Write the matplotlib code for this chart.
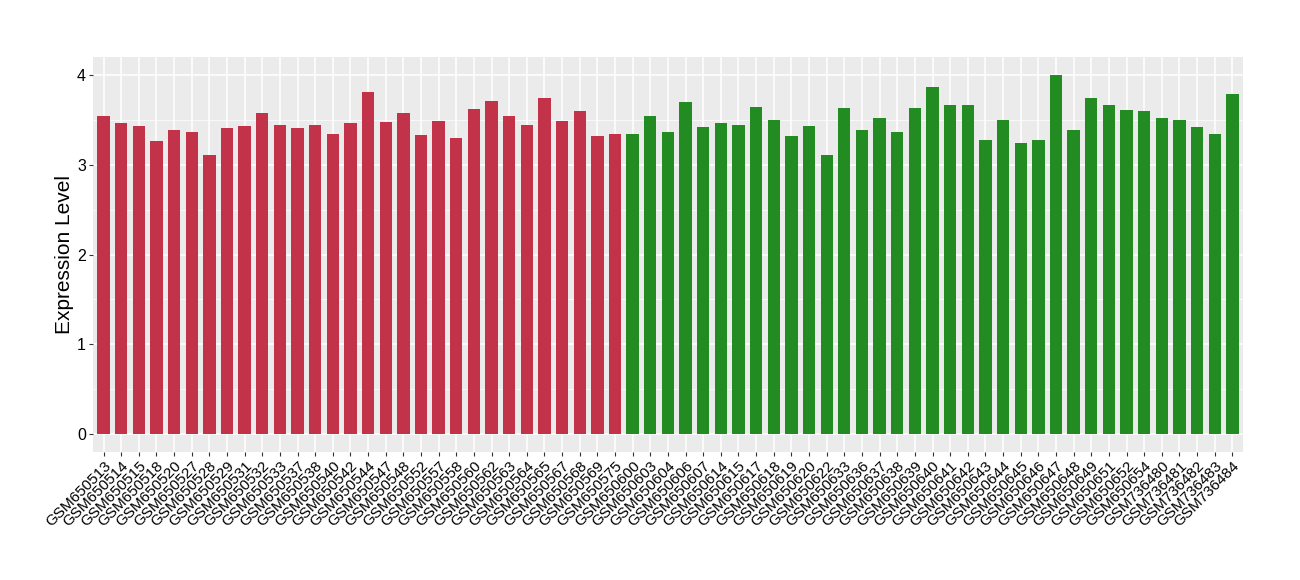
import matplotlib
matplotlib.use("Agg")
import matplotlib.pyplot as plt
import numpy as np

plt.rcParams['font.family'] = ['Liberation Sans', 'DejaVu Sans']

# Samples in group 1 (red) and group 2 (green)
red_samples = ['GSM650513', 'GSM650514', 'GSM650515', 'GSM650518', 'GSM650520',
               'GSM650527', 'GSM650528', 'GSM650529', 'GSM650531', 'GSM650532',
               'GSM650533', 'GSM650537', 'GSM650538', 'GSM650540', 'GSM650542',
               'GSM650544', 'GSM650547', 'GSM650548', 'GSM650552', 'GSM650557',
               'GSM650558', 'GSM650560', 'GSM650562', 'GSM650563', 'GSM650564',
               'GSM650565', 'GSM650567', 'GSM650568', 'GSM650569', 'GSM650575']
red_values = [3.54, 3.47, 3.43, 3.26, 3.39, 3.36, 3.11, 3.41, 3.43, 3.58,
              3.44, 3.41, 3.44, 3.34, 3.46, 3.81, 3.48, 3.58, 3.33, 3.49,
              3.30, 3.62, 3.71, 3.54, 3.44, 3.74, 3.49, 3.60, 3.32, 3.34]

green_samples = ['GSM650600', 'GSM650603', 'GSM650604', 'GSM650606', 'GSM650607',
                 'GSM650614', 'GSM650615', 'GSM650617', 'GSM650618', 'GSM650619',
                 'GSM650620', 'GSM650622', 'GSM650633', 'GSM650636', 'GSM650637',
                 'GSM650638', 'GSM650639', 'GSM650640', 'GSM650641', 'GSM650642',
                 'GSM650643', 'GSM650644', 'GSM650645', 'GSM650646', 'GSM650647',
                 'GSM650648', 'GSM650649', 'GSM650651', 'GSM650652', 'GSM650654',
                 'GSM736480', 'GSM736481', 'GSM736482', 'GSM736483', 'GSM736484']
green_values = [3.34, 3.54, 3.37, 3.70, 3.42, 3.47, 3.44, 3.64, 3.50, 3.32,
                3.43, 3.11, 3.63, 3.39, 3.52, 3.37, 3.63, 3.87, 3.66, 3.67,
                3.27, 3.50, 3.24, 3.27, 4.00, 3.39, 3.74, 3.67, 3.61, 3.60,
                3.52, 3.50, 3.42, 3.34, 3.79]

samples = red_samples + green_samples
values = red_values + green_values
colors = ['#C23248'] * len(red_samples) + ['#228B22'] * len(green_samples)

fig = plt.figure(figsize=(13, 5.8), dpi=100)
ax = fig.add_axes([0.0715, 0.2207, 0.8846, 0.681])
ax.set_facecolor('#EBEBEB')

x = np.arange(len(samples))
ax.bar(x, values, width=0.7, color=colors, zorder=3)

ax.set_xlim(-0.6, len(samples) - 0.4)
ax.set_ylim(-0.2, 4.2)
ax.set_yticks([0, 1, 2, 3, 4])
ax.set_yticks([0.5, 1.5, 2.5, 3.5], minor=True)
ax.set_xticks(x)
ax.set_xticklabels(samples, rotation=45, ha='right', va='top',
                   rotation_mode='anchor', fontsize=11)
ax.tick_params(axis='y', labelsize=11.5, length=3, color='#333333', pad=2, which='major')
ax.tick_params(axis='y', which='minor', length=0)
ax.tick_params(axis='x', length=3, color='#333333', pad=2)

ax.grid(True, which='major', color='white', linewidth=1.1, zorder=0)
ax.grid(True, which='minor', axis='y', color='white', linewidth=0.5, zorder=0)
ax.set_axisbelow(True)
for s in ax.spines.values():
    s.set_visible(False)

ax.set_ylabel('Expression Level', fontsize=15, labelpad=2)

fig.savefig('out.png', dpi=100)
